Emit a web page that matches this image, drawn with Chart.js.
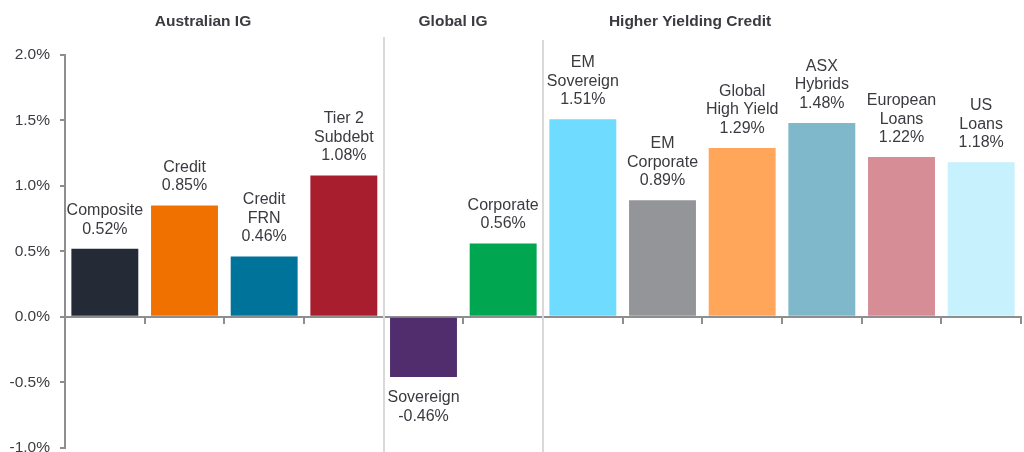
<!DOCTYPE html>
<html>
<head>
<meta charset="utf-8">
<script src="https://cdn.jsdelivr.net/npm/chart.js@4.4.1/dist/chart.umd.min.js"></script>
<style>
html,body{margin:0;padding:0;background:#fff;overflow:hidden;}
#wrap{width:1024px;height:467px;position:relative;}
</style>
</head>
<body>
<div id="wrap"><canvas id="c"></canvas></div>
<script>
// ---- data ----
const categories = ["Composite","Credit","Credit FRN","Tier 2 Subdebt","Sovereign","Corporate","EM Sovereign","EM Corporate","Global High Yield","ASX Hybrids","European Loans","US Loans"];
const labelLines = [["Composite"],["Credit"],["Credit","FRN"],["Tier 2","Subdebt"],["Sovereign"],["Corporate"],["EM","Sovereign"],["EM","Corporate"],["Global","High Yield"],["ASX","Hybrids"],["European","Loans"],["US","Loans"]];
const returns = [0.52,0.85,0.46,1.08,-0.46,0.56,1.51,0.89,1.29,1.48,1.22,1.18];
const barColors = ["#252a37","#f07000","#00739a","#a91e2f","#512d6d","#00a650","#6fdcff","#939598","#ffa65a","#7fb7cb","#d68d96","#c6f1fd"];
const groupNames = ["Australian IG","Global IG","Higher Yielding Credit"];
const groupEnds = [3,5]; // separator after these category indexes
const yTicks = [-1.0,-0.5,0.0,0.5,1.0,1.5,2.0];

const TEXT = "#3a3a40";
const AXIS = "#8e8e8e";

const overlay = {
  id:'overlay',
  beforeDatasetsDraw(chart){
    const ctx = chart.ctx, x = chart.scales.x;
    ctx.save();
    ctx.strokeStyle = "#d9d9d9";
    ctx.lineWidth = 2;
    const tops = [37,40];
    groupEnds.forEach((i,k)=>{
      const px = Math.round((x.getPixelForValue(i)+x.getPixelForValue(i+1))/2);
      ctx.beginPath();
      ctx.moveTo(px, tops[k]);
      ctx.lineTo(px, chart.height);
      ctx.stroke();
    });
    ctx.restore();
  },
  afterDatasetsDraw(chart){
    const ctx = chart.ctx;
    const meta = chart.getDatasetMeta(0);
    ctx.save();
    ctx.fillStyle = TEXT;
    ctx.textAlign = "center";
    ctx.textBaseline = "middle";
    ctx.font = "16px 'Liberation Sans', Arial, sans-serif";
    const lh = 18.5;
    meta.data.forEach((bar,i)=>{
      const lines = labelLines[i].concat([returns[i].toFixed(2)+"%"]);
      if (returns[i] >= 0) {
        let y = bar.y - 19.5 - (lines.length-1)*lh;
        lines.forEach(l=>{ ctx.fillText(l, bar.x, y); y += lh; });
      } else {
        let y = bar.y + 21;
        lines.forEach(l=>{ ctx.fillText(l, bar.x, y); y += lh; });
      }
    });
    // group headers
    ctx.font = "bold 15.5px 'Liberation Sans', Arial, sans-serif";
    const hx = [203, 453, 690];
    groupNames.forEach((g,k)=>ctx.fillText(g, hx[k], 22));
    ctx.restore();
  }
};

new Chart(document.getElementById('c'), {
  type:'bar',
  data:{
    labels: categories,
    datasets:[{
      data: returns,
      backgroundColor: barColors,
      borderWidth:0,
      categoryPercentage:1.0,
      barPercentage:0.84
    }]
  },
  options:{
    responsive:true,
    maintainAspectRatio:false,
    animation:false,
    devicePixelRatio:1,
    layout:{padding:{top:55,bottom:19,left:10,right:3}},
    plugins:{legend:{display:false},tooltip:{enabled:false}},
    scales:{
      x:{
        position:{y:0},
        z:1,
        ticks:{display:false},
        grid:{drawOnChartArea:false,drawTicks:true,tickLength:6,color:AXIS,lineWidth:2,offset:true},
        border:{display:true,color:AXIS,width:2}
      },
      y:{
        min:-1.0,max:2.0,
        afterBuildTicks(scale){ scale.ticks = yTicks.map(v=>({value:v})); },
        afterFit(scale){ scale.width = 55; },
        ticks:{
          color:"#3c3c42",
          padding:10,
          font:{family:"'Liberation Sans', Arial, sans-serif",size:15.5},
          callback:(v)=>Number(v).toFixed(1)+"%"
        },
        grid:{drawOnChartArea:false,drawTicks:true,tickLength:5,color:AXIS,lineWidth:2},
        border:{display:true,color:AXIS,width:2}
      }
    }
  },
  plugins:[overlay]
});
</script>
</body>
</html>
